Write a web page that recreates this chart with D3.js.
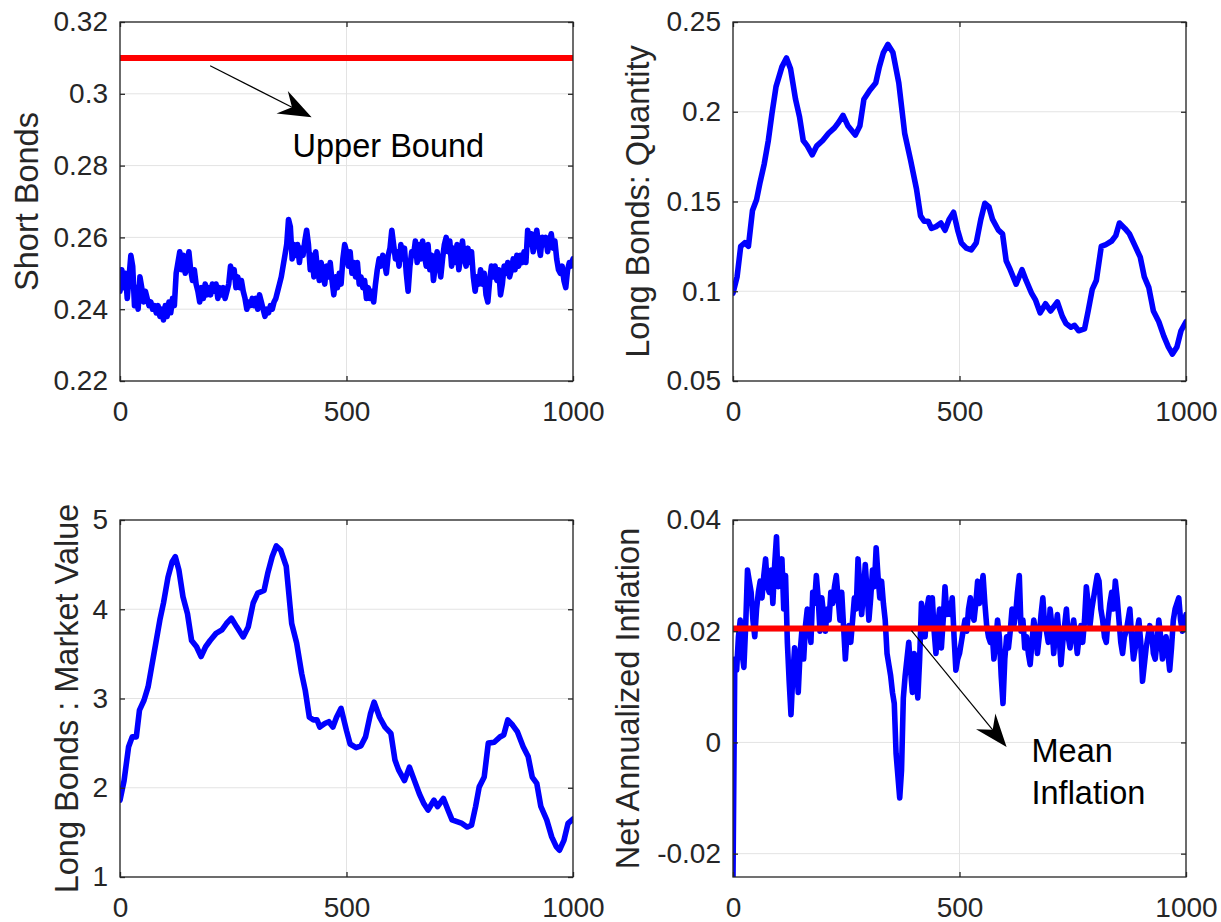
<!DOCTYPE html>
<html><head><meta charset="utf-8">
<script src="https://cdn.jsdelivr.net/npm/d3@7"></script>
<style>
body{margin:0;background:#fff}
svg{display:block}
text{font-family:"Liberation Sans",Arial,Helvetica,sans-serif}
</style>
</head><body>
<svg id="c" width="1221" height="922"></svg>
<script>
// ---------------- data ----------------
const xTicks = [0, 500, 1000];
const xTickLabels = ["0", "500", "1000"];

// Short bonds, sampled every 4 steps from 0 to 1000
const shortBondsStep = 4;
const shortBonds = [
0.245,0.251,0.246,0.250,0.243,0.249,0.255,0.252,0.241,0.246,
0.240,0.249,0.246,0.242,0.245,0.243,0.241,0.242,0.240,0.241,
0.239,0.241,0.238,0.240,0.237,0.241,0.238,0.242,0.239,0.243,
0.241,0.250,0.253,0.256,0.251,0.255,0.250,0.252,0.256,0.251,
0.248,0.251,0.247,0.245,0.242,0.246,0.243,0.247,0.244,0.246,
0.244,0.247,0.245,0.247,0.243,0.246,0.244,0.246,0.243,0.245,
0.247,0.252,0.249,0.251,0.246,0.249,0.246,0.248,0.245,0.243,
0.240,0.242,0.241,0.243,0.241,0.243,0.240,0.244,0.242,0.240,
0.238,0.240,0.239,0.241,0.240,0.242,0.243,0.245,0.247,0.249,
0.252,0.255,0.258,0.265,0.263,0.254,0.258,0.255,0.258,0.253,
0.257,0.255,0.259,0.262,0.258,0.251,0.255,0.249,0.256,0.251,
0.248,0.253,0.250,0.247,0.252,0.249,0.253,0.248,0.244,0.249,
0.246,0.250,0.247,0.254,0.258,0.256,0.252,0.256,0.250,0.253,
0.249,0.253,0.247,0.249,0.246,0.248,0.243,0.246,0.243,0.245,
0.242,0.247,0.251,0.254,0.252,0.255,0.253,0.250,0.255,0.257,
0.262,0.258,0.254,0.256,0.252,0.258,0.254,0.257,0.250,0.245,
0.252,0.256,0.255,0.259,0.253,0.258,0.254,0.259,0.255,0.252,
0.258,0.251,0.255,0.248,0.252,0.256,0.253,0.249,0.254,0.258,
0.260,0.256,0.259,0.252,0.257,0.253,0.258,0.251,0.255,0.259,
0.254,0.252,0.257,0.253,0.256,0.249,0.245,0.249,0.247,0.251,
0.247,0.250,0.244,0.242,0.248,0.252,0.249,0.252,0.248,0.251,
0.244,0.247,0.252,0.250,0.253,0.249,0.251,0.254,0.251,0.255,
0.252,0.255,0.253,0.256,0.253,0.262,0.258,0.261,0.256,0.259,
0.262,0.258,0.255,0.260,0.258,0.260,0.256,0.259,0.261,0.257,
0.259,0.254,0.251,0.250,0.252,0.248,0.246,0.251,0.253,0.252,
0.254];
const upperBound = 0.31;
const shortTicks = [0.22, 0.24, 0.26, 0.28, 0.30, 0.32];
const shortTickLabels = ["0.22", "0.24", "0.26", "0.28", "0.3", "0.32"];

// Long bonds: quantity
const longQtyT = [0,9,17,26,34,43,52,60,69,78,86,95,108,118,127,138,147,155,164,175,185,198,211,224,233,243,254,270,280,289,302,315,323,332,342,353,366,379,392,405,414,422,431,438,448,459,468,477,487,496,504,515,526,537,547,556,565,573,586,595,603,612,625,638,647,659,668,678,690,701,716,727,735,746,754,763,776,784,793,802,813,823,836,845,853,865,875,888,899,908,918,928,940,951,961,970,980,989,1000];
const longQty = [0.099,0.108,0.125,0.127,0.125,0.145,0.151,0.161,0.171,0.184,0.199,0.214,0.225,0.230,0.224,0.207,0.197,0.184,0.181,0.176,0.181,0.184,0.188,0.191,0.194,0.198,0.192,0.187,0.192,0.207,0.212,0.216,0.225,0.233,0.2375,0.233,0.216,0.188,0.173,0.157,0.142,0.139,0.139,0.135,0.136,0.138,0.134,0.140,0.144,0.134,0.127,0.124,0.123,0.127,0.140,0.149,0.147,0.140,0.134,0.132,0.117,0.112,0.104,0.112,0.106,0.099,0.095,0.088,0.093,0.089,0.094,0.086,0.082,0.080,0.081,0.078,0.079,0.089,0.101,0.106,0.125,0.126,0.128,0.131,0.138,0.135,0.132,0.125,0.119,0.108,0.102,0.089,0.083,0.075,0.069,0.065,0.069,0.078,0.083];
const longQtyTicks = [0.05, 0.1, 0.15, 0.2, 0.25];
const longQtyTickLabels = ["0.05", "0.1", "0.15", "0.2", "0.25"];

// Long bonds: market value
const longMvT = [0,9,19,27,36,43,53,62,70,79,88,96,106,115,122,130,139,149,158,169,179,189,199,212,225,235,246,258,272,283,294,304,318,326,336,345,355,367,379,390,401,409,418,427,435,441,452,461,470,478,488,500,508,521,532,542,553,561,573,585,598,607,615,628,639,650,661,671,680,693,701,714,724,733,744,755,766,776,785,793,804,813,826,839,847,856,867,877,890,901,910,920,929,942,953,963,970,980,989,1000];
const longMv = [1.86,2.08,2.46,2.57,2.57,2.87,2.98,3.13,3.36,3.62,3.88,4.07,4.36,4.53,4.59,4.44,4.14,3.95,3.65,3.58,3.47,3.58,3.65,3.73,3.77,3.84,3.90,3.80,3.69,3.80,4.07,4.18,4.21,4.40,4.59,4.71,4.66,4.48,3.84,3.62,3.28,3.09,2.79,2.76,2.76,2.68,2.72,2.74,2.68,2.79,2.89,2.64,2.49,2.45,2.47,2.57,2.83,2.96,2.79,2.68,2.61,2.31,2.20,2.08,2.23,2.08,1.93,1.82,1.75,1.86,1.79,1.88,1.75,1.64,1.62,1.60,1.56,1.58,1.79,2.01,2.12,2.50,2.51,2.57,2.59,2.76,2.70,2.63,2.46,2.35,2.12,2.05,1.79,1.64,1.45,1.34,1.30,1.41,1.60,1.65];
const longMvTicks = [1, 2, 3, 4, 5];
const longMvTickLabels = ["1", "2", "3", "4", "5"];

// Net annualized inflation, sampled every 4 steps
const inflationStep = 4;
const inflation = [
-0.0242,0.015,0.013,0.019,0.022,0.016,0.0135,0.021,0.031,0.029,
0.027,0.022,0.019,0.024,0.027,0.029,0.026,0.030,0.033,0.028,
0.027,0.031,0.025,0.032,0.037,0.028,0.031,0.033,0.024,0.030,
0.018,0.011,0.005,0.012,0.017,0.014,0.009,0.016,0.020,0.015,
0.021,0.024,0.021,0.018,0.027,0.025,0.030,0.026,0.020,0.026,
0.023,0.020,0.024,0.022,0.027,0.025,0.028,0.030,0.026,0.022,
0.027,0.021,0.015,0.020,0.021,0.018,0.022,0.026,0.024,0.033,
0.028,0.023,0.027,0.032,0.027,0.022,0.026,0.031,0.028,0.035,
0.030,0.026,0.029,0.025,0.022,0.016,0.014,0.012,0.009,0.007,
-0.002,-0.006,-0.010,-0.005,0.008,0.012,0.015,0.018,0.013,0.009,
0.016,0.012,0.008,0.015,0.025,0.022,0.019,0.024,0.026,0.021,
0.026,0.020,0.016,0.021,0.024,0.017,0.022,0.028,0.023,0.025,
0.023,0.026,0.019,0.013,0.015,0.016,0.018,0.020,0.022,0.020,
0.024,0.026,0.023,0.022,0.025,0.029,0.025,0.027,0.030,0.025,
0.021,0.019,0.018,0.020,0.015,0.018,0.022,0.019,0.012,0.007,
0.015,0.019,0.017,0.020,0.024,0.021,0.023,0.027,0.030,0.020,
0.022,0.017,0.019,0.016,0.014,0.018,0.022,0.020,0.016,0.019,
0.023,0.026,0.021,0.020,0.018,0.024,0.021,0.016,0.020,0.023,
0.019,0.014,0.018,0.021,0.024,0.019,0.017,0.020,0.022,0.019,
0.016,0.019,0.021,0.018,0.022,0.028,0.025,0.021,0.024,0.026,
0.028,0.030,0.029,0.024,0.022,0.019,0.018,0.022,0.025,0.027,
0.024,0.029,0.026,0.022,0.018,0.016,0.019,0.020,0.022,0.024,
0.019,0.015,0.017,0.020,0.022,0.018,0.011,0.014,0.017,0.019,
0.021,0.020,0.016,0.015,0.018,0.022,0.019,0.015,0.017,0.019,
0.016,0.013,0.017,0.022,0.024,0.025,0.026,0.022,0.020,0.021,
0.023];
const meanInflation = 0.0205;
const inflTicks = [-0.02, 0, 0.02, 0.04];
const inflTickLabels = ["-0.02", "0", "0.02", "0.04"];

// annotation anchors, in data units of their panel: [x, y]
const upperArrowFrom = [199, 0.3078];
const upperArrowTo = [423, 0.2935];
const upperTextAt = [381, 0.2825];
const meanArrowFrom = [394, 0.0201];
const meanArrowTo = [604, -0.0008];
const meanTextAt = [659, -0.0035];

// ---------------- drawing ----------------
const svg = d3.select("#c");
const TICK_FS = 28, LABEL_FS = 32.5, NOTE_FS = 32.5;
const AXIS_COLOR = "#262626", GRID_COLOR = "#e3e3e3";

function seriesStep(vals, step){ return vals.map((v,i)=>[i*step, v]); }
function seriesXY(ts, vs){ return ts.map((t,i)=>[t, vs[i]]); }

let clipId = 0;
function panel(o){
  const g = svg.append("g").attr("transform", `translate(${o.left},${o.top})`);
  const x = d3.scaleLinear().domain([0,1000]).range([0, o.w]);
  const y = d3.scaleLinear().domain(o.ydom).range([o.h, 0]);

  // grid
  g.append("g").selectAll("line").data(o.yticks).join("line")
    .attr("x1",0).attr("x2",o.w).attr("y1",d=>y(d)).attr("y2",d=>y(d))
    .attr("stroke",GRID_COLOR).attr("stroke-width",1);
  g.append("g").selectAll("line").data(xTicks).join("line")
    .attr("y1",0).attr("y2",o.h).attr("x1",d=>x(d)).attr("x2",d=>x(d))
    .attr("stroke",GRID_COLOR).attr("stroke-width",1);

  // clip
  const cid = "clip"+(clipId++);
  g.append("clipPath").attr("id",cid).append("rect").attr("width",o.w).attr("height",o.h);
  const plot = g.append("g").attr("clip-path",`url(#${cid})`);

  const line = d3.line().x(d=>x(d[0])).y(d=>y(d[1]));
  plot.append("path").datum(o.data).attr("d",line)
    .attr("fill","none").attr("stroke","#0000ff").attr("stroke-width",5.6)
    .attr("stroke-linejoin","round").attr("stroke-linecap","round");
  if (o.hline !== undefined){
    plot.append("path").datum([[0,o.hline],[1000,o.hline]]).attr("d",line)
      .attr("fill","none").attr("stroke","#ff0000").attr("stroke-width",6);
  }

  // axes
  const fmt = (arr, lab) => (d)=> lab[arr.indexOf(d)];
  const ax = (sel)=>{ sel.select(".domain").remove(); sel.selectAll("line").attr("stroke",AXIS_COLOR).attr("stroke-width",1.3);
    sel.selectAll("text").attr("fill",AXIS_COLOR).attr("font-size",TICK_FS).attr("font-family",'"Liberation Sans",Arial,sans-serif'); };
  g.append("g").call(d3.axisLeft(y).tickValues(o.yticks).tickFormat(fmt(o.yticks,o.ylabels)).tickSizeInner(-5).tickSizeOuter(0).tickPadding(12)).call(ax);
  g.append("g").attr("transform",`translate(${o.w},0)`).call(d3.axisRight(y).tickValues(o.yticks).tickFormat("").tickSizeInner(-5).tickSizeOuter(0)).call(ax);
  g.append("g").attr("transform",`translate(0,${o.h})`).call(d3.axisBottom(x).tickValues(xTicks).tickFormat(fmt(xTicks,xTickLabels)).tickSizeInner(-5).tickSizeOuter(0).tickPadding(20)).call(ax);
  g.append("g").call(d3.axisTop(x).tickValues(xTicks).tickFormat("").tickSizeInner(-5).tickSizeOuter(0)).call(ax);
  g.append("rect").attr("width",o.w).attr("height",o.h).attr("fill","none")
    .attr("stroke",AXIS_COLOR).attr("stroke-width",1.3);

  // y label
  g.append("text").attr("transform",`translate(${o.ylabelX},${o.h/2}) rotate(-90)`)
    .attr("text-anchor","middle").attr("font-size",LABEL_FS).attr("fill",AXIS_COLOR)
    .text(o.ylabel);
  return {g,x,y};
}

function arrow(p, from, to, textAt, lines){
  const [x1,y1] = [p.x(from[0]), p.y(from[1])];
  const [x2,y2] = [p.x(to[0]), p.y(to[1])];
  const dx=x2-x1, dy=y2-y1, L=Math.hypot(dx,dy), ux=dx/L, uy=dy/L, px=-uy, py=ux;
  const HL=33, HW=12.5, NOTCH=22;
  const nx=x2-ux*NOTCH, ny=y2-uy*NOTCH;
  p.g.append("line").attr("x1",x1).attr("y1",y1).attr("x2",nx).attr("y2",ny)
    .attr("stroke","#000").attr("stroke-width",1.2);
  const c1=[x2-ux*HL+px*HW, y2-uy*HL+py*HW], c2=[x2-ux*HL-px*HW, y2-uy*HL-py*HW];
  p.g.append("path").attr("d",`M${x2},${y2}L${c1[0]},${c1[1]}L${nx},${ny}L${c2[0]},${c2[1]}Z`)
    .attr("fill","#000");
  const t = p.g.append("text").attr("x",p.x(textAt[0])).attr("y",p.y(textAt[1]))
    .attr("font-size",NOTE_FS).attr("fill","#000");
  lines.forEach((s,i)=>t.append("tspan").attr("x",p.x(textAt[0])).attr("dy", i===0?0:42).text(s));
}

const W = 453, H1 = 359, H2 = 357;
const p1 = panel({left:120, top:22, w:W, h:H1, ydom:[0.22,0.32], yticks:shortTicks, ylabels:shortTickLabels,
  ylabel:"Short Bonds", ylabelX:-82, data:seriesStep(shortBonds, shortBondsStep), hline:upperBound});
const p2 = panel({left:733, top:22, w:W, h:H1, ydom:[0.05,0.25], yticks:longQtyTicks, ylabels:longQtyTickLabels,
  ylabel:"Long Bonds: Quantity", ylabelX:-84, data:seriesXY(longQtyT, longQty)});
const p3 = panel({left:120, top:520, w:W, h:H2, ydom:[1,5], yticks:longMvTicks, ylabels:longMvTickLabels,
  ylabel:"Long Bonds : Market Value", ylabelX:-42, data:seriesXY(longMvT, longMv)});
const p4 = panel({left:733, top:520, w:W, h:H2, ydom:[-0.0242,0.04], yticks:inflTicks, ylabels:inflTickLabels,
  ylabel:"Net Annualized Inflation", ylabelX:-94, data:seriesStep(inflation, inflationStep), hline:meanInflation});

arrow(p1, upperArrowFrom, upperArrowTo, upperTextAt, ["Upper Bound"]);
arrow(p4, meanArrowFrom, meanArrowTo, meanTextAt, ["Mean","Inflation"]);
</script>
</body></html>
